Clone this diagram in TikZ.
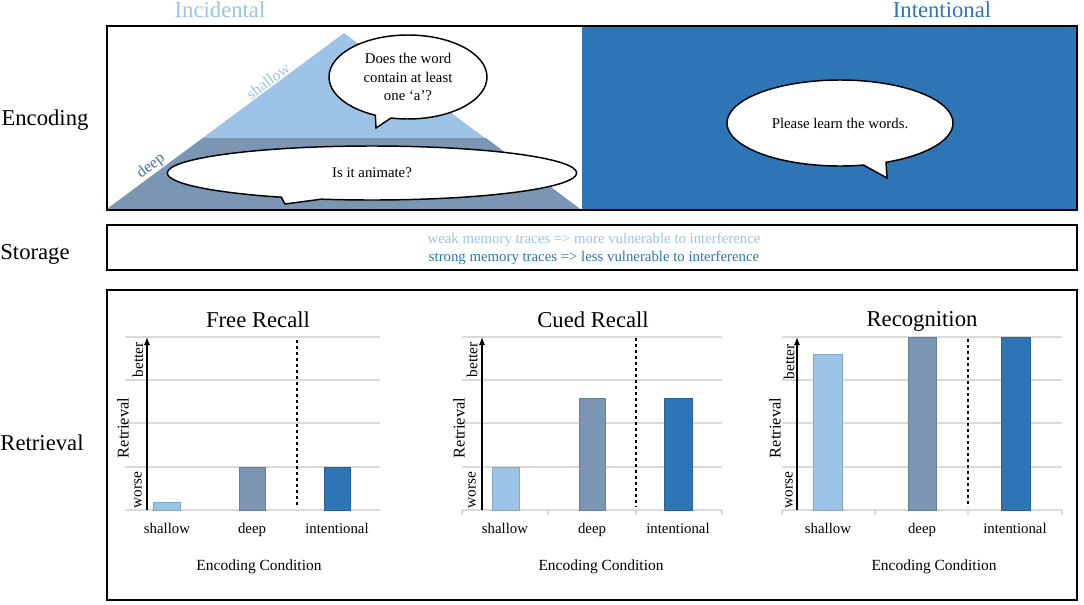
\documentclass[tikz,border=0pt]{standalone}
\usepackage{fontspec}
\setmainfont{Liberation Serif}
\usetikzlibrary{shapes.callouts,arrows.meta}

\definecolor{lightblue}{HTML}{9DC3E6}
\definecolor{slateblue}{HTML}{7A96B2}
\definecolor{darkblue}{HTML}{2E75B6}
\definecolor{deeptext}{HTML}{4A72A6}
\definecolor{gridgrey}{HTML}{DADADA}

\begin{document}
\begin{tikzpicture}[x=0.75pt, y=-0.75pt,
    big/.style={font=\fontsize{17}{20}\selectfont},
    txt/.style={font=\fontsize{11.1}{13.75}\selectfont},
    cat/.style={font=\fontsize{11.1}{13.75}\selectfont, anchor=base},
    side/.style={font=\fontsize{11.5}{13.75}\selectfont, rotate=90, inner sep=1pt},
    bubble/.style={ellipse callout, draw=black, line width=1.1pt, fill=white, align=center, inner sep=0pt, callout pointer arc=12, font=\fontsize{11.1}{13.75}\selectfont},
    panel/.style={draw=black, line width=1.2pt},
    grid/.style={draw=gridgrey, line width=0.8pt},
    divider/.style={dash pattern=on 2.5pt off 2pt, line width=0.8pt},
    axis/.style={-{Latex[length=6pt,width=4.5pt]}, line width=0.9pt}]
    \useasboundingbox (0,0) rectangle (1084,604);

    % encoding
    \fill[darkblue] (582,26) rectangle (1077,210);
    \fill[lightblue] (107,209) -- (344,33) -- (580,209) -- cycle;
    \fill[slateblue] (107,209) -- (203,138) -- (486,138) -- (580,209) -- cycle;
    \draw[panel] (107,26) rectangle (1077,210);

    \node[big, anchor=base, text=lightblue] (incidental) at (220,17) {Incidental};
    \node[big, anchor=base, text=darkblue] (intentional) at (942,17) {Intentional};
    \node[big] (encoding) at (45,120) {Encoding};

    \node[font=\fontsize{12}{14}\selectfont, text=lightblue, rotate=36.6, inner sep=1pt] (shallow) at (268,81) {shallow};
    \node[font=\fontsize{12}{14}\selectfont, text=deeptext, rotate=36.6, inner sep=1pt] (deep) at (151,166) {deep};

    \node[bubble, minimum width=118.5pt, minimum height=63pt, callout absolute pointer={(376,128)}] (q-shallow) at (408,77) {Does the word\\contain at least\\one ‘a’?};
    \node[bubble, minimum width=307pt, minimum height=40.5pt, callout absolute pointer={(285,204)}] (q-deep) at (372,173) {Is it animate?};
    \node[bubble, minimum width=169.5pt, minimum height=64.5pt, callout absolute pointer={(887,178)}] (q-intent) at (840,123) {Please learn the words.};

    % storage
    \draw[panel] (107,225) rectangle (1077,270);
    \node[big] (storage) at (35,254) {Storage};
    \node[txt, text=lightblue] (weak) at (594,240) {weak memory traces => more vulnerable to interference};
    \node[txt, text=darkblue] (strong) at (594,258) {strong memory traces => less vulnerable to interference};

    % retrieval
    \draw[panel] (107,290) rectangle (1077,600);
    \node[big] (retrieval) at (42,443) {Retrieval};

    % free recall
    \draw[grid] (125,337) -- (380,337) (125,380) -- (380,380) (125,423) -- (380,423) (125,467) -- (380,467) (125,510) -- (380,510);
    \fill[lightblue, draw=lightblue!85!black] (153,510) rectangle (180,502);
    \fill[slateblue, draw=slateblue!85!black] (239,510) rectangle (265,467);
    \fill[darkblue, draw=darkblue!85!black] (324,510) rectangle (350,467);
    \draw[divider] (297,340) -- (297,507);
    \coordinate (fr-o) at (147,510);
    \coordinate (fr-top) at (147,337);
    \draw[axis] (fr-o) -- (fr-top);
    \node[big, anchor=base] (fr-title) at (258,327) {Free Recall};
    \node[side] (fr-worse) at (138,490) {worse};
    \node[side, font=\fontsize{12.3}{14}\selectfont] (fr-ret) at (123,428) {Retrieval};
    \node[side] (fr-better) at (138,360) {better};
    \node[cat] (fr-x1) at (167,533) {shallow};
    \node[cat] (fr-x2) at (252,533) {deep};
    \node[cat] (fr-x3) at (337,533) {intentional};
    \node[cat, font=\fontsize{11.6}{14}\selectfont] (fr-cond) at (259,570) {Encoding Condition};

    % cued recall
    \draw[grid] (462,337) -- (722,337) (462,380) -- (722,380) (462,423) -- (722,423) (462,467) -- (722,467) (462,510) -- (722,510);
    \draw[grid] (462,510) -- (462,515) (548,510) -- (548,515) (636,510) -- (636,515) (722,510) -- (722,515);
    \fill[lightblue, draw=lightblue!85!black] (492,510) rectangle (519,467);
    \fill[slateblue, draw=slateblue!85!black] (579,510) rectangle (605,398);
    \fill[darkblue, draw=darkblue!85!black] (664,510) rectangle (692,398);
    \draw[divider] (636,338) -- (636,507);
    \coordinate (cr-o) at (482,510);
    \coordinate (cr-top) at (482,337);
    \draw[axis] (cr-o) -- (cr-top);
    \node[big, anchor=base] (cr-title) at (593,327) {Cued Recall};
    \node[side] (cr-worse) at (472,490) {worse};
    \node[side, font=\fontsize{12.3}{14}\selectfont] (cr-ret) at (459,428) {Retrieval};
    \node[side] (cr-better) at (472,360) {better};
    \node[cat] (cr-x1) at (505,533) {shallow};
    \node[cat] (cr-x2) at (592,533) {deep};
    \node[cat] (cr-x3) at (678,533) {intentional};
    \node[cat, font=\fontsize{11.6}{14}\selectfont] (cr-cond) at (601,570) {Encoding Condition};

    % recognition
    \draw[grid] (782,337) -- (1062,337) (782,380) -- (1062,380) (782,423) -- (1062,423) (782,467) -- (1062,467) (782,510) -- (1062,510);
    \draw[grid] (782,510) -- (782,515) (875,510) -- (875,515) (968,510) -- (968,515) (1062,510) -- (1062,515);
    \fill[lightblue, draw=lightblue!85!black] (813,510) rectangle (842,354);
    \fill[slateblue, draw=slateblue!85!black] (908,510) rectangle (936,337);
    \fill[darkblue, draw=darkblue!85!black] (1001,510) rectangle (1030,337);
    \draw[divider] (968,339) -- (968,507);
    \coordinate (rc-o) at (797,510);
    \coordinate (rc-top) at (797,337);
    \draw[axis] (rc-o) -- (rc-top);
    \node[big, anchor=base] (rc-title) at (922,326) {Recognition};
    \node[side] (rc-worse) at (789,490) {worse};
    \node[side, font=\fontsize{12.3}{14}\selectfont] (rc-ret) at (775,428) {Retrieval};
    \node[side] (rc-better) at (789,362) {better};
    \node[cat] (rc-x1) at (828,533) {shallow};
    \node[cat] (rc-x2) at (922,533) {deep};
    \node[cat] (rc-x3) at (1015,533) {intentional};
    \node[cat, font=\fontsize{11.6}{14}\selectfont] (rc-cond) at (934,570) {Encoding Condition};
\end{tikzpicture}
\end{document}
